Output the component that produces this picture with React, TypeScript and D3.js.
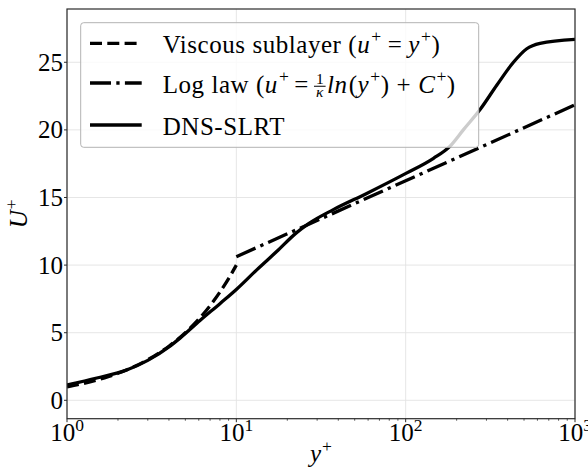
import React, { useEffect, useRef } from 'react';
import * as d3 from 'd3';

// DNS-SLRT mean velocity profile (wall units)
const dnsYPlus = [1, 1.5, 2.25, 3, 4, 4.65, 6.1, 8, 10, 13.2, 17.3, 22.7, 26.6, 37.4, 58.9, 101, 146, 183, 219, 275, 345, 433, 519, 622, 1000];
const dnsU = [1.13, 1.65, 2.24, 2.95, 3.95, 4.6, 5.9, 7.15, 8.2, 9.65, 11.0, 12.4, 13.05, 14.1, 15.3, 16.8, 17.9, 18.8, 20.0, 21.5, 23.3, 25.0, 26.0, 26.4, 26.7];

// Viscous sublayer u+ = y+ sampled on 1..10
const viscYPlus = [1, 1.25, 1.5, 1.75, 2, 2.5, 3, 3.5, 4, 5, 6, 7, 8, 9, 10];
const viscU = [1, 1.25, 1.5, 1.75, 2, 2.5, 3, 3.5, 4, 5, 6, 7, 8, 9, 10];

// Log law (kappa = 0.41, C+ = 5.0): straight on a log axis, endpoints suffice
const logYPlus = [10, 1000];
const logU = [10.62, 21.85];

const xTicks = [1, 10, 100, 1000];
const xTickExp = ['0', '1', '2', '3'];
const yTicks = [0, 5, 10, 15, 20, 25];

const W = 588;
const H = 472;
const FONT = "'Liberation Serif', 'DejaVu Serif', serif";
const FS = 25;

type Seg = { t?: string; it?: boolean; sup?: boolean; frac?: [string, string]; gap?: number };

// Lays out a run of text pieces (italics, superscripts, gaps, a small stacked fraction)
function rich(
  parent: d3.Selection<SVGGElement, unknown, null, undefined>,
  x: number,
  y: number,
  segs: Seg[],
  size: number,
  anchor: 'start' | 'middle' | 'end' = 'start',
  spacing = 0
) {
  const g = parent.append('g');
  let cx = 0;
  for (const s of segs) {
    if (s.gap !== undefined) {
      cx += s.gap;
      continue;
    }
    if (s.frac) {
      const fs = size * 0.62;
      const w = fs * 0.75;
      const bar = -size * 0.25;
      g.append('text')
        .attr('x', cx + w / 2 + 1)
        .attr('y', bar - 2.5)
        .attr('text-anchor', 'middle')
        .attr('font-size', fs)
        .attr('font-family', FONT)
        .text(s.frac[0]);
      g.append('line')
        .attr('x1', cx + 1)
        .attr('x2', cx + w + 1)
        .attr('y1', bar)
        .attr('y2', bar)
        .attr('stroke', '#000')
        .attr('stroke-width', 1);
      g.append('text')
        .attr('x', cx + w / 2 + 1)
        .attr('y', bar + fs * 0.72)
        .attr('text-anchor', 'middle')
        .attr('font-size', fs)
        .attr('font-style', 'italic')
        .attr('font-family', FONT)
        .text(s.frac[1]);
      cx += w + 2.5;
      continue;
    }
    const fs = s.sup ? size * 0.7 : size;
    const t = g
      .append('text')
      .attr('x', cx)
      .attr('y', s.sup ? -size * 0.42 : 0)
      .attr('font-size', fs)
      .attr('font-family', FONT)
      .attr('font-style', s.it ? 'italic' : 'normal')
      .attr('letter-spacing', spacing)
      .style('white-space', 'pre')
      .text(s.t || '');
    cx += (t.node() as SVGTextElement).getComputedTextLength() + (s.it ? 1 : 0);
  }
  const shift = anchor === 'middle' ? -cx / 2 : anchor === 'end' ? -cx : 0;
  g.attr('transform', `translate(${x + shift},${y})`);
  return g;
}

export default function App() {
  const ref = useRef<SVGSVGElement>(null);

  useEffect(() => {
    const svg = d3.select(ref.current as SVGSVGElement);
    svg.selectAll('*').remove();
    const root = svg.append('g') as d3.Selection<SVGGElement, unknown, null, undefined>;

    const left = 67, right = 575, top = 9, bottom = 418.7;
    const x = d3.scaleLog().domain([1, 1000]).range([left, right]);
    const y = d3.scaleLinear().domain([-1.36, 28.94]).range([bottom, top]);

    root.append('rect').attr('width', W).attr('height', H).attr('fill', '#fff');

    // grid
    const grid = root.append('g').attr('stroke', '#e3e3e3').attr('stroke-width', 0.9);
    xTicks.forEach((v) => {
      grid.append('line').attr('x1', x(v)).attr('x2', x(v)).attr('y1', top).attr('y2', bottom);
    });
    yTicks.forEach((v) => {
      grid.append('line').attr('x1', left).attr('x2', right).attr('y1', y(v)).attr('y2', y(v));
    });

    root
      .append('clipPath')
      .attr('id', 'plotclip')
      .append('rect')
      .attr('x', left)
      .attr('y', top)
      .attr('width', right - left)
      .attr('height', bottom - top);

    const plot = root.append('g').attr('clip-path', 'url(#plotclip)');
    const lw = 3.3;

    const line = d3
      .line<[number, number]>()
      .x((d) => x(d[0]))
      .y((d) => y(d[1]))
      .curve(d3.curveMonotoneX);

    plot
      .append('path')
      .attr('d', line(viscYPlus.map((v, i) => [v, viscU[i]] as [number, number])))
      .attr('fill', 'none')
      .attr('stroke', '#000')
      .attr('stroke-width', lw)
      .attr('stroke-dasharray', '12,5.3');

    plot
      .append('path')
      .attr('d', line(logYPlus.map((v, i) => [v, logU[i]] as [number, number])))
      .attr('fill', 'none')
      .attr('stroke', '#000')
      .attr('stroke-width', lw)
      .attr('stroke-dasharray', '21,5.3,3.3,5.3');

    plot
      .append('path')
      .attr('d', line(dnsYPlus.map((v, i) => [v, dnsU[i]] as [number, number])))
      .attr('fill', 'none')
      .attr('stroke', '#000')
      .attr('stroke-width', lw)
      .attr('stroke-linejoin', 'round');

    // legend
    const lx = 80.7, ly = 22.7, lwid = 398, lh = 124.6;
    root
      .append('rect')
      .attr('x', lx)
      .attr('y', ly)
      .attr('width', lwid)
      .attr('height', lh)
      .attr('rx', 3)
      .attr('fill', 'rgba(255,255,255,0.8)')
      .attr('stroke', '#b3b3b3')
      .attr('stroke-width', 1);

    const rows = [43.3, 83, 125];
    const dashes = ['12,5.3', '21,5.3,3.3,5.3', null];
    rows.forEach((ry, i) => {
      const l = root
        .append('line')
        .attr('x1', 90)
        .attr('x2', 141.7)
        .attr('y1', ry)
        .attr('y2', ry)
        .attr('stroke', '#000')
        .attr('stroke-width', lw);
      if (dashes[i]) l.attr('stroke-dasharray', dashes[i] as string);
    });

    const tx = 162.7;
    const ls = 0.55;
    rich(root, tx, rows[0] + 9.5, [
      { t: 'Viscous sublayer (' },
      { t: 'u', it: true },
      { t: '+', sup: true },
      { gap: 6 },
      { t: '=' },
      { gap: 6 },
      { t: 'y', it: true },
      { t: '+', sup: true },
      { t: ')' },
    ], FS, 'start', ls);
    rich(root, tx, rows[1] + 9.5, [
      { t: 'Log law (' },
      { t: 'u', it: true },
      { t: '+', sup: true },
      { gap: 5 },
      { t: '=' },
      { gap: 4 },
      { frac: ['1', 'κ'] },
      { t: 'ln', it: true },
      { t: '(' },
      { t: 'y', it: true },
      { t: '+', sup: true },
      { t: ')' },
      { gap: 7 },
      { t: '+' },
      { gap: 7 },
      { t: 'C', it: true },
      { t: '+', sup: true },
      { t: ')' },
    ], FS, 'start', ls);
    rich(root, tx, rows[2] + 9.5, [{ t: 'DNS-SLRT' }], FS, 'start', ls);

    // spines
    root
      .append('rect')
      .attr('x', left)
      .attr('y', top)
      .attr('width', right - left)
      .attr('height', bottom - top)
      .attr('fill', 'none')
      .attr('stroke', '#2b2b2b')
      .attr('stroke-width', 1.2);

    // y ticks
    yTicks.forEach((v) => {
      root
        .append('line')
        .attr('x1', left - 3)
        .attr('x2', left)
        .attr('y1', y(v))
        .attr('y2', y(v))
        .attr('stroke', '#2b2b2b')
        .attr('stroke-width', 1);
      rich(root, left - 4, y(v) + 8.5, [{ t: String(v) }], FS, 'end');
    });

    // x ticks (major + minor)
    xTicks.forEach((v, i) => {
      root
        .append('line')
        .attr('x1', x(v))
        .attr('x2', x(v))
        .attr('y1', bottom)
        .attr('y2', bottom + 3.5)
        .attr('stroke', '#2b2b2b')
        .attr('stroke-width', 1);
      rich(root, x(v), 441, [{ t: '10' }, { t: xTickExp[i], sup: true }], FS, 'middle');
      if (i < xTicks.length - 1) {
        for (let k = 2; k <= 9; k++) {
          root
            .append('line')
            .attr('x1', x(v * k))
            .attr('x2', x(v * k))
            .attr('y1', bottom)
            .attr('y2', bottom + 2)
            .attr('stroke', '#2b2b2b')
            .attr('stroke-width', 0.8);
        }
      }
    });

    // axis labels
    rich(root, (left + right) / 2, 462, [{ t: 'y', it: true }, { t: '+', sup: true }], FS, 'middle');
    const yl = root.append('g').attr('transform', `translate(27,${(top + bottom) / 2}) rotate(-90)`);
    rich(yl as any, 0, 0, [{ t: 'U', it: true }, { t: '+', sup: true }], FS, 'middle');
  }, []);

  return (
    <svg
      ref={ref}
      width={W}
      height={H}
      style={{ position: 'absolute', left: 0, top: 0, display: 'block' }}
    />
  );
}
